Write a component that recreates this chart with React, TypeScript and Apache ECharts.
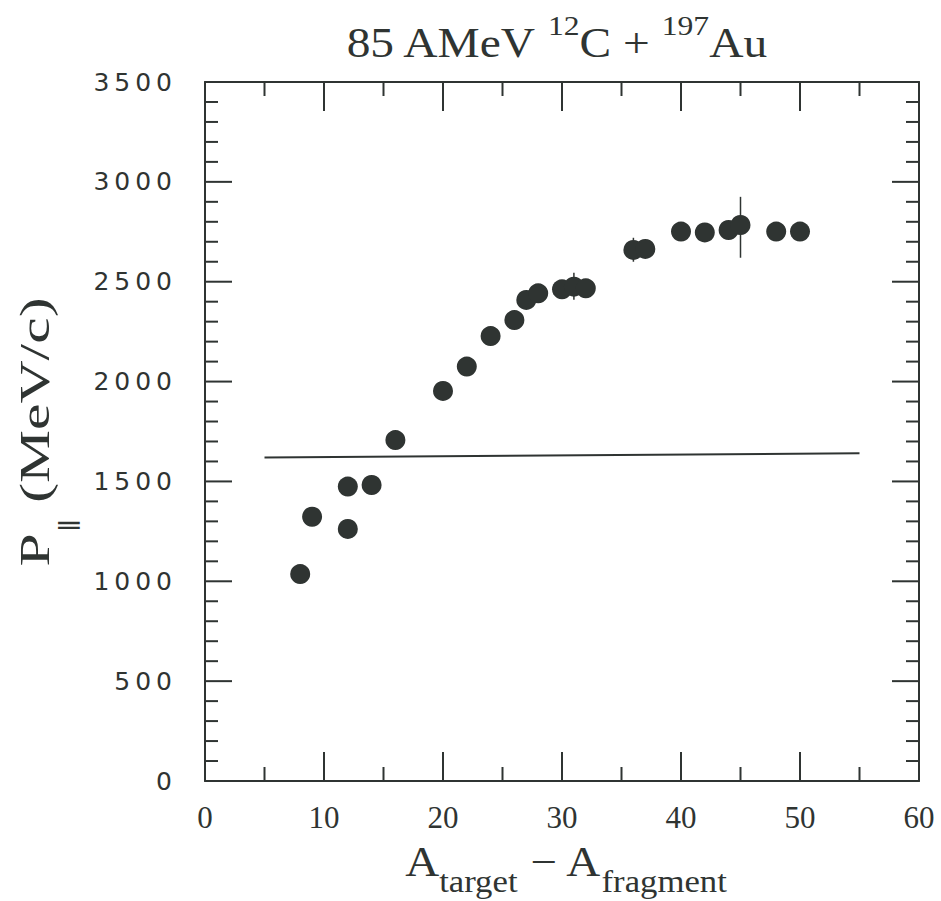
import React, { useEffect, useRef } from "react";
import * as echarts from "echarts";

// Data
const xValues = [8, 9, 12, 12, 14, 16, 20, 22, 24, 26, 27, 28, 30, 31, 32, 36, 37, 40, 42, 44, 45, 48, 50];
const yValues = [1036, 1323, 1474, 1262, 1482, 1707, 1953, 2075, 2228, 2308, 2409, 2442, 2462, 2475, 2467, 2659, 2664, 2751, 2747, 2759, 2784, 2751, 2751];
// error bars: [x, low, high]
const errX = [31, 36, 45];
const errLow = [2410, 2600, 2620];
const errHigh = [2545, 2720, 2925];
// reference horizontal line
const refLineX = [5, 55];
const refLineY = [1620, 1641];

// axes
const xTicks = [0, 10, 20, 30, 40, 50, 60];
const yTicks = [0, 500, 1000, 1500, 2000, 2500, 3000, 3500];
const xMajorTicks = [10, 20, 30, 40, 50];
const xMinorTicks = [5, 15, 25, 35, 45, 55];
const yMajorTicks = [500, 1000, 1500, 2000, 2500, 3000];
const yMinorTicks = [
  100, 200, 300, 400, 600, 700, 800, 900, 1100, 1200, 1300, 1400, 1600, 1700, 1800, 1900,
  2100, 2200, 2300, 2400, 2600, 2700, 2800, 2900, 3100, 3200, 3300, 3400,
];

const INK = "#2f3432";
const SERIF = "'Liberation Serif', 'DejaVu Serif', serif";
const GRID = { left: 205, top: 82, width: 714, height: 699 };

export default function App() {
  const ref = useRef<HTMLDivElement>(null);
  useEffect(() => {
    document.body.style.margin = "0";
    const chart = echarts.init(ref.current!, null, { renderer: "svg" });
    const scatterData = xValues.map((x, i) => [x, yValues[i]]);
    const errData = errX.map((x, i) => [x, errLow[i], errHigh[i]]);
    const lineData = refLineX.map((x, i) => [x, refLineY[i]]);
    const axisLine = { show: true, onZero: false, lineStyle: { color: INK, width: 2 } };
    const xCommon = {
      type: "value" as const,
      min: xTicks[0],
      max: xTicks[xTicks.length - 1],
      interval: 10,
      axisLine,
      axisTick: { show: false },
      minorTick: { show: false },
      splitLine: { show: false },
      minorSplitLine: { show: false },
    };
    const yCommon = {
      type: "value" as const,
      min: yTicks[0],
      max: yTicks[yTicks.length - 1],
      interval: 500,
      axisLine,
      axisTick: { show: false },
      minorTick: { show: false },
      splitLine: { show: false },
      minorSplitLine: { show: false },
    };
    chart.setOption({
      animation: false,
      backgroundColor: "#ffffff",
      grid: { ...GRID, containLabel: false },
      xAxis: [
        {
          ...xCommon,
          position: "bottom",
          axisLabel: {
            show: true,
            fontFamily: SERIF,
            fontSize: 31,
            color: INK,
            margin: 21,
            showMinLabel: true,
            showMaxLabel: true,
          },
        },
        { ...xCommon, position: "top", axisLabel: { show: false } },
      ],
      yAxis: [
        {
          ...yCommon,
          position: "left",
          axisLabel: {
            show: true,
            fontFamily: "'DejaVu Sans', sans-serif",
            fontSize: 25,
            color: INK,
            margin: 33,
            formatter: (v: number) => String(v).split("").join("\u2009"),
          },
        },
        { ...yCommon, position: "right", axisLabel: { show: false } },
      ],
      series: [
        {
          type: "line",
          data: lineData,
          xAxisIndex: 0,
          yAxisIndex: 0,
          symbol: "none",
          lineStyle: { color: INK, width: 2 },
          z: 1,
        },
        {
          type: "custom",
          data: errData,
          xAxisIndex: 0,
          yAxisIndex: 0,
          encode: { x: 0, y: [1, 2] },
          renderItem: (params: any, api: any) => {
            const x = api.value(0);
            const p1 = api.coord([x, api.value(1)]);
            const p2 = api.coord([x, api.value(2)]);
            return {
              type: "line",
              shape: { x1: p1[0], y1: p1[1], x2: p2[0], y2: p2[1] },
              style: { stroke: INK, lineWidth: 1.5 },
            };
          },
          z: 2,
        },
        {
          type: "scatter",
          data: scatterData,
          xAxisIndex: 0,
          yAxisIndex: 0,
          symbol: "circle",
          symbolSize: 20,
          itemStyle: { color: INK, opacity: 1 },
          z: 3,
        },
      ],
    });

    // tick marks on all four sides, positioned through the chart's own scales
    const top = GRID.top;
    const bottom = GRID.top + GRID.height;
    const left = GRID.left;
    const right = GRID.left + GRID.width;
    const tickStyle = { stroke: INK, lineWidth: 2 };
    const tickEls: any[] = [];
    const addX = (vals: number[], len: number) => {
      vals.forEach((v) => {
        const px = chart.convertToPixel({ xAxisIndex: 0 }, v) as number;
        tickEls.push({ type: "line", silent: true, z: 10, shape: { x1: px, y1: bottom, x2: px, y2: bottom - len }, style: tickStyle });
        tickEls.push({ type: "line", silent: true, z: 10, shape: { x1: px, y1: top, x2: px, y2: top + len }, style: tickStyle });
      });
    };
    const addY = (vals: number[], len: number) => {
      vals.forEach((v) => {
        const py = chart.convertToPixel({ yAxisIndex: 0 }, v) as number;
        tickEls.push({ type: "line", silent: true, z: 10, shape: { x1: left, y1: py, x2: left + len, y2: py }, style: tickStyle });
        tickEls.push({ type: "line", silent: true, z: 10, shape: { x1: right, y1: py, x2: right - len, y2: py }, style: tickStyle });
      });
    };
    addX(xMajorTicks, 29);
    addX(xMinorTicks, 14);
    addY(yMajorTicks, 27);
    addY(yMinorTicks, 13);

    chart.setOption({
      graphic: [
        ...tickEls,
        {
          type: "text",
          x: 556,
          y: 11,
          scaleX: 1.13,
          style: {
            text: "{n|85 AMeV }{sup|12}{n|C + }{sup|197}{n|Au}",
            align: "center",
            verticalAlign: "top",
            fill: INK,
            rich: {
              n: { fontSize: 42, fontFamily: SERIF, fill: INK, lineHeight: 53, verticalAlign: "bottom" },
              sup: { fontSize: 28, fontFamily: SERIF, fill: INK, lineHeight: 28, verticalAlign: "top" },
            },
          },
        },
        {
          type: "text",
          x: 566,
          y: 841,
          scaleX: 1.12,
          style: {
            text: "{n|A}{sub|target}{n| \u2212 A}{sub|fragment}",
            align: "center",
            verticalAlign: "top",
            fill: INK,
            rich: {
              n: { fontSize: 42, fontFamily: SERIF, fill: INK, lineHeight: 42, verticalAlign: "top" },
              sub: { fontSize: 31, fontFamily: SERIF, fill: INK, lineHeight: 56, verticalAlign: "bottom" },
            },
          },
        },
        {
          type: "text",
          x: 46,
          y: 432,
          rotation: Math.PI / 2,
          scaleX: 1.42,
          style: {
            text: "{n|P}{sub|\u2225}{n| (MeV/c)}",
            align: "center",
            verticalAlign: "middle",
            fill: INK,
            rich: {
              n: { fontSize: 42, fontFamily: SERIF, fill: INK, lineHeight: 44, verticalAlign: "top" },
              sub: { fontSize: 22, fontFamily: "'DejaVu Sans', sans-serif", fill: INK, lineHeight: 64, verticalAlign: "bottom" },
            },
          },
        },
      ],
    });
    return () => chart.dispose();
  }, []);
  return <div ref={ref} style={{ width: 941, height: 901 }} />;
}
